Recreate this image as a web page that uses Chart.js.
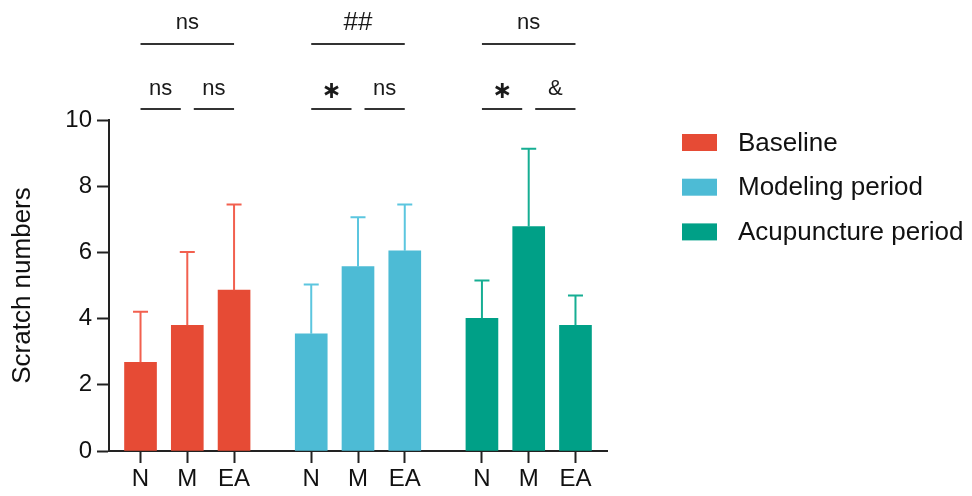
<!DOCTYPE html>
<html>
<head>
<meta charset="utf-8">
<script src="https://cdn.jsdelivr.net/npm/chart.js@4/dist/chart.umd.min.js"></script>
<style>
  html, body { margin: 0; padding: 0; background: #ffffff; }
  #wrap { width: 972px; height: 496px; }
</style>
</head>
<body>
<div id="wrap"><canvas id="c" width="972" height="496"></canvas></div>
<script>
// ---- data ----
const categories = ['N', 'M', 'EA'];
const periods = ['Baseline', 'Modeling period', 'Acupuncture period'];
const baselineMean = [2.68, 3.80, 4.86];
const baselineSD   = [1.53, 2.21, 2.59];
const modelingMean = [3.54, 5.57, 6.05];
const modelingSD   = [1.49, 1.49, 1.40];
const acupMean     = [4.01, 6.78, 3.80];
const acupSD       = [1.14, 2.35, 0.90];
const groupLabels  = ['ns', '##', 'ns'];   // N vs EA per period
const pairLabelsNM = ['ns', '∗', '∗'];     // N vs M
const pairLabelsME = ['ns', 'ns', '&'];    // M vs EA
const yTicks = [0, 2, 4, 6, 8, 10];

// ---- layout / style ----
const GROUP_STRIDE = 3.65;
const barColors = ['#E64B35', '#4DBBD5', '#00A087'];
const errColors = ['#F2604F', '#5CC6DF', '#16AE93'];
const means = [baselineMean, modelingMean, acupMean];
const sds = [baselineSD, modelingSD, acupSD];
const xPos = (g, i) => g * GROUP_STRIDE + i;
const allPos = [];
periods.forEach((p, g) => categories.forEach((c, i) => allPos.push(xPos(g, i))));
const FONT = '"Liberation Sans", Arial, Helvetica, sans-serif';

const datasets = periods.map((p, g) => ({
  label: p,
  data: categories.map((c, i) => ({ x: xPos(g, i), y: means[g][i] })),
  backgroundColor: barColors[g],
  borderWidth: 0,
  barThickness: 32,
  grouped: false,
  sd: sds[g],
  errColor: errColors[g]
}));

const errorBarPlugin = {
  id: 'errorBars',
  afterDatasetsDraw(chart) {
    const ctx = chart.ctx;
    const ys = chart.scales.y;
    chart.data.datasets.forEach((ds, di) => {
      const meta = chart.getDatasetMeta(di);
      meta.data.forEach((bar, i) => {
        const top = ys.getPixelForValue(ds.data[i].y + ds.sd[i]);
        const yv = ys.getPixelForValue(ds.data[i].y);
        ctx.save();
        ctx.strokeStyle = ds.errColor;
        ctx.lineWidth = 2;
        ctx.beginPath();
        ctx.moveTo(bar.x, yv);
        ctx.lineTo(bar.x, top);
        ctx.moveTo(bar.x - 7.5, top);
        ctx.lineTo(bar.x + 7.5, top);
        ctx.stroke();
        ctx.restore();
      });
    });
  }
};

const sigPlugin = {
  id: 'significance',
  afterDraw(chart) {
    const ctx = chart.ctx;
    const xs = chart.scales.x;
    const TOP_LINE = 44, LOW_LINE = 109;
    ctx.save();
    ctx.strokeStyle = '#333333';
    ctx.lineWidth = 2;
    ctx.fillStyle = '#1a1a1a';
    ctx.textAlign = 'center';
    ctx.textBaseline = 'alphabetic';
    periods.forEach((p, g) => {
      const xN = xs.getPixelForValue(xPos(g, 0));
      const xM = xs.getPixelForValue(xPos(g, 1));
      const xE = xs.getPixelForValue(xPos(g, 2));
      ctx.beginPath();
      ctx.moveTo(xN, TOP_LINE); ctx.lineTo(xE, TOP_LINE);
      ctx.moveTo(xN, LOW_LINE); ctx.lineTo(xM - 6.5, LOW_LINE);
      ctx.moveTo(xM + 6.5, LOW_LINE); ctx.lineTo(xE, LOW_LINE);
      ctx.stroke();
      const drawLabel = (t, x, y) => {
        if (t === '∗') {
          ctx.font = 'bold 24px "DejaVu Sans", sans-serif';
          ctx.fillText(t, x, y + 3);
        } else if (t === '##') {
          ctx.font = '26px ' + FONT;
          ctx.fillText(t, x, y + 1);
        } else {
          ctx.font = '22px ' + FONT;
          ctx.fillText(t, x, y);
        }
      };
      drawLabel(groupLabels[g], (xN + xE) / 2, 29);
      drawLabel(pairLabelsNM[g], (xN + xM - 6.5) / 2, 94.5);
      drawLabel(pairLabelsME[g], (xM + 6.5 + xE) / 2, 94.5);
    });
    ctx.restore();
  }
};

const legendPlugin = {
  id: 'customLegend',
  afterDraw(chart) {
    const ctx = chart.ctx;
    ctx.save();
    chart.data.datasets.forEach((ds, i) => {
      const cy = 142.5 + i * 44.7;
      ctx.fillStyle = ds.backgroundColor;
      ctx.fillRect(682, cy - 8.5, 35, 17);
      ctx.fillStyle = '#111111';
      ctx.font = '26px ' + FONT;
      ctx.textAlign = 'left';
      ctx.textBaseline = 'middle';
      ctx.fillText(ds.label, 738, cy + 1);
    });
    ctx.restore();
  }
};

new Chart(document.getElementById('c'), {
  type: 'bar',
  data: { datasets },
  plugins: [errorBarPlugin, sigPlugin, legendPlugin],
  options: {
    responsive: false,
    animation: false,
    layout: { padding: { top: 120, right: 365, left: 0, bottom: 0 } },
    plugins: { legend: { display: false }, tooltip: { enabled: false } },
    scales: {
      x: {
        type: 'linear',
        offset: false,
        min: -0.674,
        max: 2 * GROUP_STRIDE + 2 + 0.674,
        afterBuildTicks: (s) => { s.ticks = allPos.map(v => ({ value: v })); },
        afterFit: (s) => { s.height = 45; },
        ticks: {
          autoSkip: false, maxRotation: 0, padding: 2,
          font: { family: FONT, size: 24 }, color: '#111111',
          callback: (v, i) => categories[i % categories.length]
        },
        grid: { offset: false, drawOnChartArea: false, tickLength: 12, tickWidth: 2, tickColor: '#222222' },
        border: { color: '#222222', width: 2 }
      },
      y: {
        min: 0, max: 10,
        afterBuildTicks: (s) => { s.ticks = yTicks.map(v => ({ value: v })); },
        afterFit: (s) => { s.width = 109; },
        ticks: { font: { family: FONT, size: 24 }, color: '#111111', padding: 5 },
        grid: { drawOnChartArea: false, tickLength: 12, tickWidth: 2, tickColor: '#222222' },
        border: { color: '#222222', width: 2 },
        title: {
          display: true, text: 'Scratch numbers',
          font: { family: FONT, size: 26 }, color: '#111111',
          padding: { top: 7, bottom: 0 }
        }
      }
    }
  }
});
</script>
</body>
</html>
